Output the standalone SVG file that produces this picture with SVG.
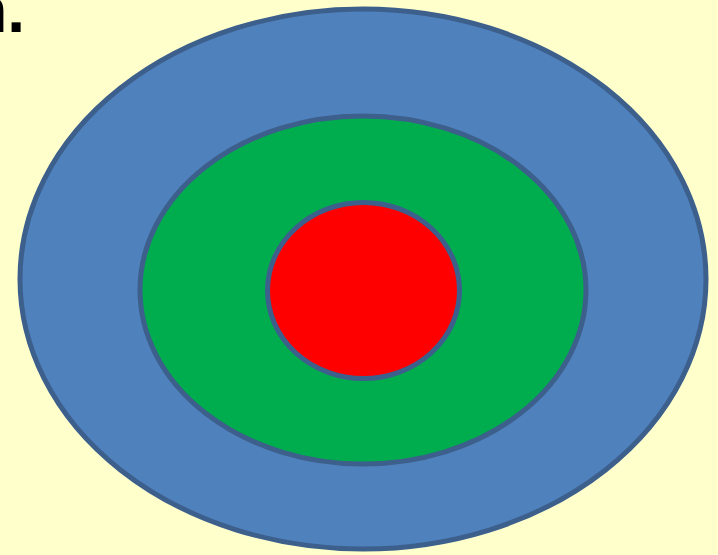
<svg xmlns="http://www.w3.org/2000/svg" width="718" height="555" viewBox="0 0 718 555">
<style>
.ring{stroke:#3C5F8C;stroke-width:5}
</style>
<rect width="718" height="555" fill="#FFFFCC"/>
<text x="25" y="32" font-family="Liberation Sans, Arial, sans-serif" font-size="64" font-weight="bold" text-anchor="end" fill="#000">n.</text>
<g id="outer"><ellipse class="ring" cx="363" cy="279" rx="343" ry="270" fill="#4F81BD"/></g>
<g id="middle"><ellipse class="ring" cx="363" cy="290" rx="223" ry="174" fill="#00AD4E"/></g>
<g id="inner"><ellipse class="ring" cx="363.5" cy="290.5" rx="96" ry="88" fill="#FF0000"/></g>
</svg>
